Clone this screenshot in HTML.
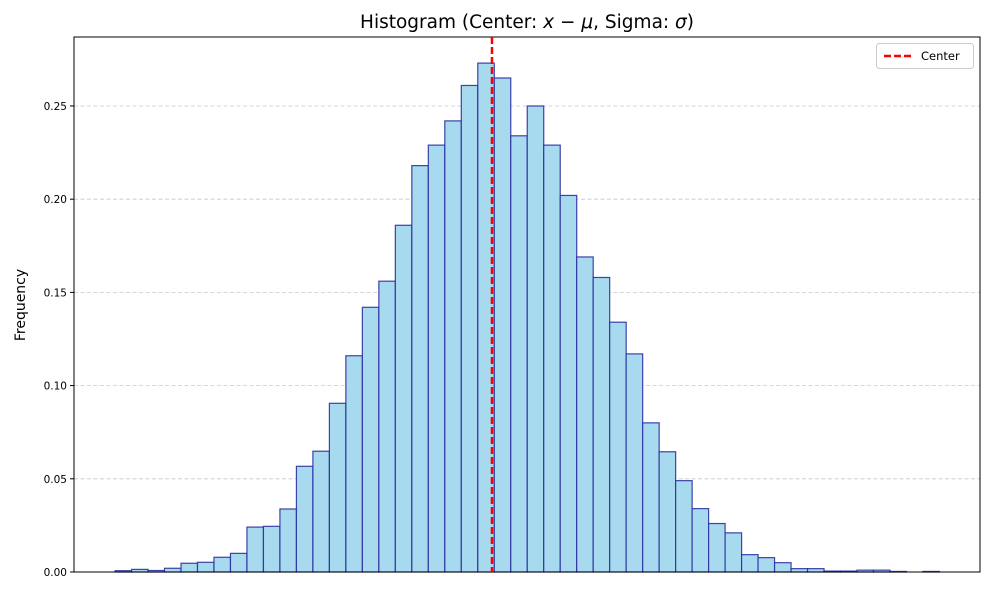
<!DOCTYPE html>
<html><head><meta charset="utf-8"><style>
body{margin:0;background:#fff;font-family:"Liberation Sans","DejaVu Sans",sans-serif}
</style></head><body>
<svg width="989" height="590" viewBox="0 0 989 590" xmlns="http://www.w3.org/2000/svg">
<text x="527" y="28" text-anchor="middle" font-size="18.5" font-family="DejaVu Sans, sans-serif">Histogram (Center: <tspan font-style="italic">x</tspan> − <tspan font-style="italic">μ</tspan>, Sigma: <tspan font-style="italic">σ</tspan>)</text>
<text transform="translate(25,305) rotate(-90)" text-anchor="middle" font-size="14" font-family="DejaVu Sans, sans-serif">Frequency</text>
<g id="grid"></g><g id="bars"></g><g id="yticks"></g>
<rect x="74" y="37" width="906" height="535" fill="none" stroke="#000" stroke-width="1"/>
<g id="center"></g>
<g>
<rect x="876.5" y="43.5" width="97" height="25" rx="3" fill="#fff" stroke="#ccc"/>
<line x1="884" y1="56" x2="912" y2="56" stroke="red" stroke-width="2.5" stroke-dasharray="7,3"/>
<text x="921" y="60" font-size="11.5" font-family="DejaVu Sans, sans-serif">Center</text>
</g>
</svg>
<script>
const values=[0.0007,0.0014,0.0008,0.002,0.0047,0.0052,0.0079,0.010,0.0241,0.0245,0.0338,0.0567,0.0648,0.0905,0.116,0.142,0.156,0.186,0.218,0.229,0.242,0.261,0.273,0.265,0.234,0.250,0.229,0.202,0.169,0.158,0.134,0.117,0.080,0.0645,0.049,0.034,0.026,0.021,0.0093,0.0077,0.005,0.0018,0.0018,0.0005,0.0005,0.001,0.001,0.0003,0,0.0003];
const yTicks=[0,0.05,0.10,0.15,0.20,0.25];
const yTickLabels=["0.00","0.05","0.10","0.15","0.20","0.25"];
const centerBin=[22.86];
const NS="http://www.w3.org/2000/svg";
const X0=74,X1=980,Y0=572,Y1=37,dMin=-2.49,dMax=52.46,yMax=0.287;
const xs=v=>X0+(v-dMin)/(dMax-dMin)*(X1-X0);
const ys=v=>Y0-v/yMax*(Y0-Y1);
function mk(t,a,p){const e=document.createElementNS(NS,t);for(const k in a)e.setAttribute(k,a[k]);p.appendChild(e);return e;}
const g=document.getElementById('grid'),b=document.getElementById('bars'),yt=document.getElementById('yticks'),c=document.getElementById('center');
yTicks.forEach((t,i)=>{
 const y=ys(t);
 if(t>0){const l=mk('line',{x1:X0,x2:X1,y1:y,y2:y,stroke:'#c8c8c8','stroke-dasharray':'4,2.5','stroke-width':0.8},g);
 
 }
 const tk=mk('line',{x1:X0-4,x2:X0,y1:y,y2:y,stroke:'#000'},yt);
 
 
 const tx=mk('text',{x:X0-7,y:y+4,'text-anchor':'end','font-size':10.5,'font-family':'DejaVu Sans, sans-serif'},yt);
 tx.textContent=yTickLabels[i];
 
 
});
values.forEach((v,i)=>{
 const x=xs(i),w=xs(i+1)-xs(i);
 const r=mk('rect',{x:x,y:ys(v),width:w,height:Y0-ys(v),fill:'#a8daef',stroke:'#2b2fa0','stroke-width':1.2,'stroke-opacity':0.9},b);
 
 
});
const cl=mk('line',{x1:xs(centerBin[0]),x2:xs(centerBin[0]),y1:Y1,y2:Y0,stroke:'red','stroke-width':2.5,'stroke-dasharray':'7,3'},c);


</script>
</body></html>
